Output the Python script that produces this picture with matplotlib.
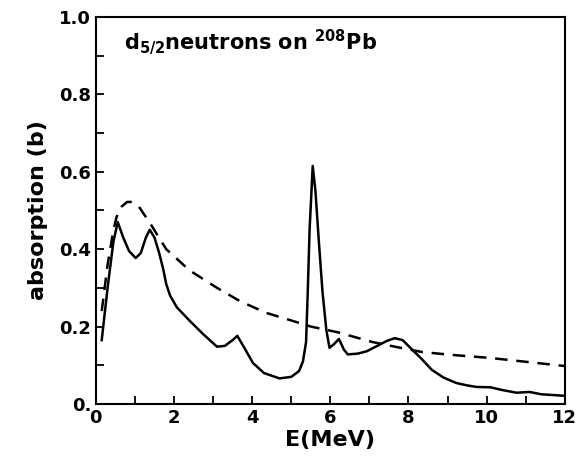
import matplotlib.pyplot as plt
import numpy as np

# solid curve (calculated absorption)
e_solid = [0.15, 0.3, 0.45, 0.56, 0.7, 0.85, 1.02, 1.15, 1.28, 1.38, 1.5, 1.62, 1.72, 1.8, 1.9, 2.07,
           2.4, 2.75, 3.1, 3.3, 3.5, 3.62, 3.8, 4.02, 4.3, 4.7, 5.0, 5.2, 5.3, 5.38, 5.42, 5.47, 5.55,
           5.62, 5.7, 5.8, 5.9, 5.98, 6.1, 6.22, 6.35, 6.45, 6.7, 6.93, 7.2, 7.45, 7.65, 7.85, 8.1, 8.35,
           8.6, 8.9, 9.23, 9.5, 9.74, 10.1, 10.4, 10.77, 11.1, 11.4, 11.7, 12.0]
y_solid = [0.165, 0.30, 0.42, 0.47, 0.43, 0.395, 0.377, 0.39, 0.43, 0.45, 0.43, 0.39, 0.35, 0.31, 0.28, 0.25,
           0.215, 0.18, 0.148, 0.15, 0.165, 0.176, 0.145, 0.106, 0.08, 0.066, 0.07, 0.085, 0.11, 0.16, 0.28, 0.45, 0.615,
           0.55, 0.43, 0.29, 0.19, 0.145, 0.155, 0.168, 0.14, 0.128, 0.13, 0.136, 0.15, 0.163, 0.17, 0.165, 0.14, 0.115,
           0.088, 0.068, 0.054, 0.048, 0.044, 0.043, 0.036, 0.029, 0.031, 0.025, 0.023, 0.021]

# dashed curve
e_dash = [0.15, 0.3, 0.45, 0.53, 0.66, 0.8, 0.9, 1.1, 1.4, 1.8, 2.4, 3.1, 3.7, 4.37, 4.96, 5.5, 6.2, 7.08,
          7.7, 8.36, 9.2, 10.08, 11.0, 12.0]
y_dash = [0.24, 0.36, 0.45, 0.483, 0.51, 0.522, 0.522, 0.51, 0.465, 0.40, 0.345, 0.30, 0.265, 0.235, 0.217,
          0.20, 0.185, 0.16, 0.147, 0.134, 0.126, 0.119, 0.109, 0.098]

plt.rcParams['font.family'] = 'DejaVu Sans'
plt.rcParams['font.weight'] = 'bold'

fig = plt.figure(figsize=(5.81, 4.58), dpi=100)
ax = fig.add_axes([0.165, 0.118, 0.807, 0.845])

ax.plot(e_solid, y_solid, color='k', lw=1.8)
ax.plot(e_dash, y_dash, color='k', lw=1.8, linestyle=(0, (5, 3.5)))

ax.set_xlim(0, 12)
ax.set_ylim(0, 1.0)
ax.set_xticks(np.arange(0, 13, 2))
ax.set_xticks(np.arange(0, 13, 1), minor=True)
ax.set_yticks([0, 0.2, 0.4, 0.6, 0.8, 1.0])
ax.set_yticklabels(['0.', '0.2', '0.4', '0.6', '0.8', '1.0'])
ax.set_yticks(np.arange(0, 1.01, 0.1), minor=True)
ax.tick_params(direction='in', which='both', labelsize=13, width=1.3)
ax.tick_params(which='major', length=6)
ax.tick_params(which='minor', length=6)
for s in ax.spines.values():
    s.set_linewidth(1.5)

ax.set_xlabel('E(MeV)', fontsize=16, fontweight='bold', labelpad=2)
ax.set_ylabel('absorption (b)', fontsize=16, fontweight='bold', labelpad=8)

ax.text(0.06, 0.915, r'd$_{\mathbf{5/2}}$neutrons on $^{\mathbf{208}}$Pb', transform=ax.transAxes,
        fontsize=15, fontweight='bold')

fig.savefig('out.png', dpi=100)
